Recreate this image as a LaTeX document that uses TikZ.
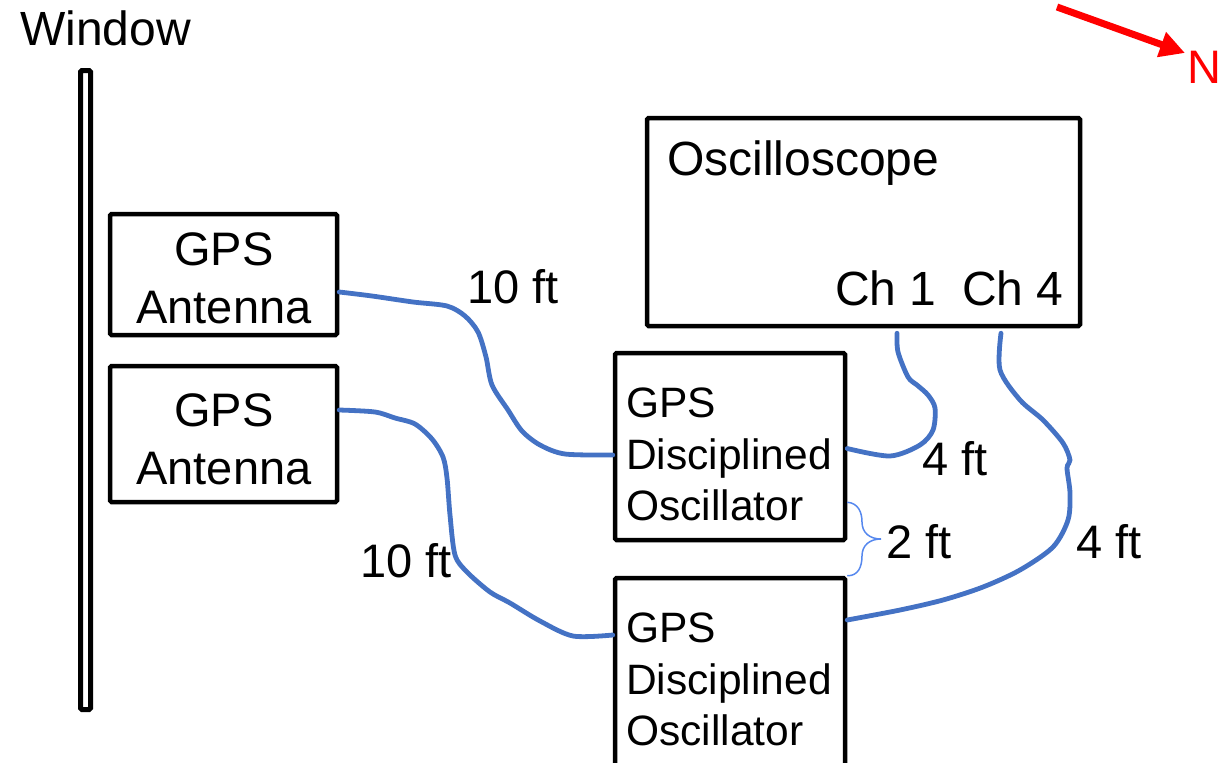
\documentclass[tikz,border=0pt]{standalone}
\usepackage{fontspec}
\setmainfont{Liberation Sans}
\usetikzlibrary{arrows.meta}
\definecolor{cablecol}{RGB}{68,114,196}
\definecolor{bracecol}{RGB}{86,136,238}
\begin{document}
\begin{tikzpicture}[x=1pt,y=-1pt,
  box/.style={draw, line width=4.5pt, rounded corners=1.5pt, inner sep=0pt},
  cable/.style={draw=cablecol, line width=4.8pt, line join=round, line cap=round},
  lbl/.style={inner sep=0pt, font=\fontsize{47}{55}\selectfont},
  osclbl/.style={inner sep=0pt, font=\fontsize{48}{56}\selectfont, anchor=base west},
  anttext/.style={inner sep=0pt, anchor=north, align=center, font=\fontsize{47}{58}\selectfont},
  dsotext/.style={inner sep=0pt, anchor=north west, align=left, font=\fontsize{42.5}{51.5}\selectfont},
 ]
\useasboundingbox (0,0) rectangle (1227,763);
\clip (0,0) rectangle (1227,763);

% window
\node[draw, line width=5pt, rounded corners=1.5pt, minimum width=10pt, minimum height=639pt, inner sep=0pt] (window) at (85.5,390) {};
\node[lbl, anchor=base west, font=\fontsize{48}{55}\selectfont] (wlabel) at (20,45) {Window};

% boxes
\node[box, minimum width=227pt, minimum height=121pt] (ant1) at (223.5,274.5) {};
\node[box, minimum width=227pt, minimum height=136pt] (ant2) at (223.5,434) {};
\node[box, minimum width=230pt, minimum height=187pt] (dso1) at (730,446.5) {};
\node[box, minimum width=230pt, minimum height=189pt] (dso2) at (730,672.5) {};
\node[box, minimum width=433pt, minimum height=208pt] (osc) at (863.5,222) {};

% box texts
\node[anttext] (ant1t) at (224,232) {GPS\\Antenna};
\node[anttext] (ant2t) at (224,393) {GPS\\Antenna};
\node[dsotext] (dso1t) at (626,388) {GPS\\Disciplined\\Oscillator};
\node[dsotext] (dso2t) at (626,613) {GPS\\Disciplined\\Oscillator};
\node[osclbl] (osct) at (667,175) {Oscilloscope};
\node[osclbl] (ch1) at (835,305) {Ch 1};
\node[osclbl] (ch4) at (962,305) {Ch 4};

% cable end points
\coordinate (a1) at ([yshift=-17.5pt]ant1.east);
\coordinate (a2) at ([yshift=-8.5pt]dso1.west);
\coordinate (b1) at ([yshift=24pt]ant2.east);
\coordinate (b2) at ([yshift=37.5pt]dso2.west);
\coordinate (c1) at ([xshift=33.5pt,yshift=-5pt]osc.south);
\coordinate (c2) at ([yshift=-2pt]dso1.east);
\coordinate (d1) at ([xshift=137.5pt,yshift=-5pt]osc.south);
\coordinate (d2) at ([yshift=52.5pt]dso2.east);

% cables
\draw[cable] plot[smooth, tension=0.5] coordinates {(a1) (372,296) (413,302) (447,306) (465,316) (478,332) (486,357) (492,385) (508,410) (522,431) (540,445) (565,454) (a2)};
\draw[cable] plot[smooth, tension=0.5] coordinates {(b1) (375,412) (395,418) (415,424) (432,439) (443,457) (447,478) (450,515) (455,555) (467,572) (490,592) (510,603) (540,621) (573,636) (b2)};
\draw[cable] plot[smooth, tension=0.5] coordinates {(c1) (898,352) (908,377) (917,385) (928,395) (935,408) (933,430) (920,445) (890,456) (c2)};
\draw[cable] plot[smooth, tension=0.5] coordinates {(d1) (1000,370) (1020,400) (1043,420) (1063,443) (1070,460) (1067,468) (1070,493) (1068,520) (1053,547) (1020,570) (983,587) (943,600) (900,610) (d2)};

% length labels
\node[lbl, anchor=base west] (l10a) at (467,303) {10 ft};
\node[lbl, anchor=base west] (l10b) at (360,577) {10 ft};
\node[lbl, anchor=base west] (l4a) at (922,475) {4 ft};
\node[lbl, anchor=base west] (l2) at (886,558) {2 ft};
\node[lbl, anchor=base west] (l4b) at (1076,558) {4 ft};

% brace
\coordinate (bt) at ([yshift=40pt]dso1.south east);
\coordinate (bb) at (dso2.north east);
\draw[bracecol, line width=1.5pt] (bt) .. controls (858,503) and (862,512) .. (862,522)
  .. controls (862,533) and (870,539) .. (881,539)
  .. controls (870,539) and (862,545) .. (862,556)
  .. controls (862,567) and (858,576) .. (bb);

% north arrow
\coordinate (ntail) at (1057,7);
\coordinate (nhead) at (1185,53);
\draw[red, line width=7pt, -{Triangle[length=25pt,width=25pt]}] (ntail) -- (nhead);
\node[lbl, text=red, anchor=base west] (nlabel) at (1187.5,83) {N};
\end{tikzpicture}
\end{document}
